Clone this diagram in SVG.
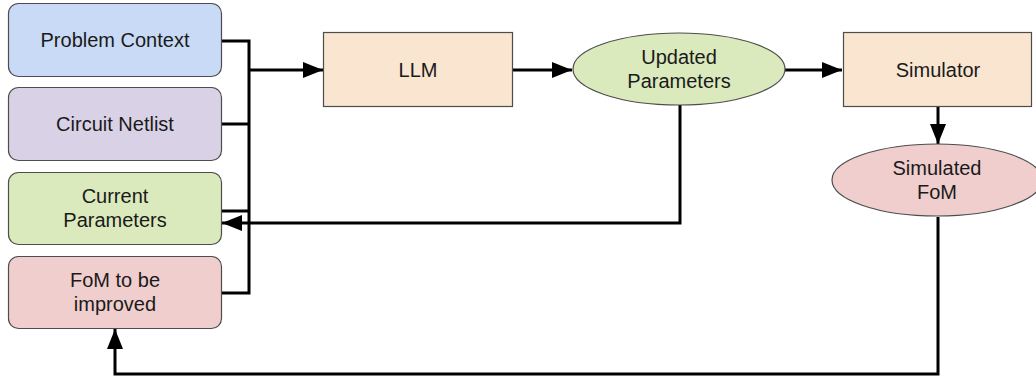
<svg xmlns="http://www.w3.org/2000/svg" width="1036" height="379" viewBox="0 0 1036 379">
  <style>
    .box { stroke: #4d4d4d; stroke-width: 1.2; }
    .label { font-family: "Liberation Sans", Arial, sans-serif; font-size: 20px; fill: #1a1a1a; text-anchor: middle; }
    .wire { fill: none; stroke: #000; stroke-width: 3; stroke-linejoin: miter; }
    .blue { fill: #c9daf6; }
    .purple { fill: #d9d2e7; }
    .green { fill: #daeabd; }
    .red { fill: #efcecd; }
    .orange { fill: #f9e5d0; }
  </style>
  <defs>
    <marker id="arrow" markerUnits="userSpaceOnUse" markerWidth="22" markerHeight="16" refX="20" refY="8" orient="auto">
      <path d="M0,0 L20,8 L0,16 Z" fill="#000"/>
    </marker>
  </defs>

  <rect width="1036" height="379" fill="#fff"/>

  <!-- connectors -->
  <g id="connectors">
    <!-- inputs merge into a bus feeding the LLM -->
    <path class="wire" d="M222,41 H249 V293 H222"/>
    <path class="wire" d="M222,124 H249"/>
    <path class="wire" d="M222,211 H249"/>
    <path class="wire" d="M249,70 H323" marker-end="url(#arrow)"/>
    <!-- LLM to updated parameters -->
    <path class="wire" d="M513,70 H572" marker-end="url(#arrow)"/>
    <!-- updated parameters to simulator -->
    <path class="wire" d="M785,70 H842" marker-end="url(#arrow)"/>
    <!-- updated parameters back to current parameters -->
    <path class="wire" d="M680,105 V223 H222" marker-end="url(#arrow)"/>
    <!-- simulator to simulated FoM -->
    <path class="wire" d="M938,107 V144" marker-end="url(#arrow)"/>
    <!-- simulated FoM back to FoM to be improved -->
    <path class="wire" d="M938,217 V374 H115 V329" marker-end="url(#arrow)"/>
  </g>

  <g id="problem-context">
    <rect class="box blue" x="8.5" y="3.5" width="213" height="73" rx="10"/>
    <text class="label" x="115" y="47">Problem Context</text>
  </g>

  <g id="circuit-netlist">
    <rect class="box purple" x="8.5" y="87.5" width="213" height="73" rx="10"/>
    <text class="label" x="115" y="131">Circuit Netlist</text>
  </g>

  <g id="current-parameters">
    <rect class="box green" x="8.5" y="172.5" width="213" height="72" rx="10"/>
    <text class="label" x="115" y="203">Current</text>
    <text class="label" x="115" y="227">Parameters</text>
  </g>

  <g id="fom-to-be-improved">
    <rect class="box red" x="8.5" y="256.5" width="213" height="72" rx="10"/>
    <text class="label" x="115" y="287">FoM to be</text>
    <text class="label" x="115" y="311">improved</text>
  </g>

  <g id="llm">
    <rect class="box orange" x="323.5" y="32.5" width="189" height="74"/>
    <text class="label" x="418" y="77">LLM</text>
  </g>

  <g id="updated-parameters">
    <ellipse class="box green" cx="679" cy="69" rx="106" ry="36"/>
    <text class="label" x="679" y="64">Updated</text>
    <text class="label" x="679" y="88">Parameters</text>
  </g>

  <g id="simulator">
    <rect class="box orange" x="843.5" y="32.5" width="188" height="74"/>
    <text class="label" x="938" y="77">Simulator</text>
  </g>

  <g id="simulated-fom">
    <ellipse class="box red" cx="937" cy="180" rx="105" ry="36"/>
    <text class="label" x="937" y="175">Simulated</text>
    <text class="label" x="937" y="199">FoM</text>
  </g>
</svg>
